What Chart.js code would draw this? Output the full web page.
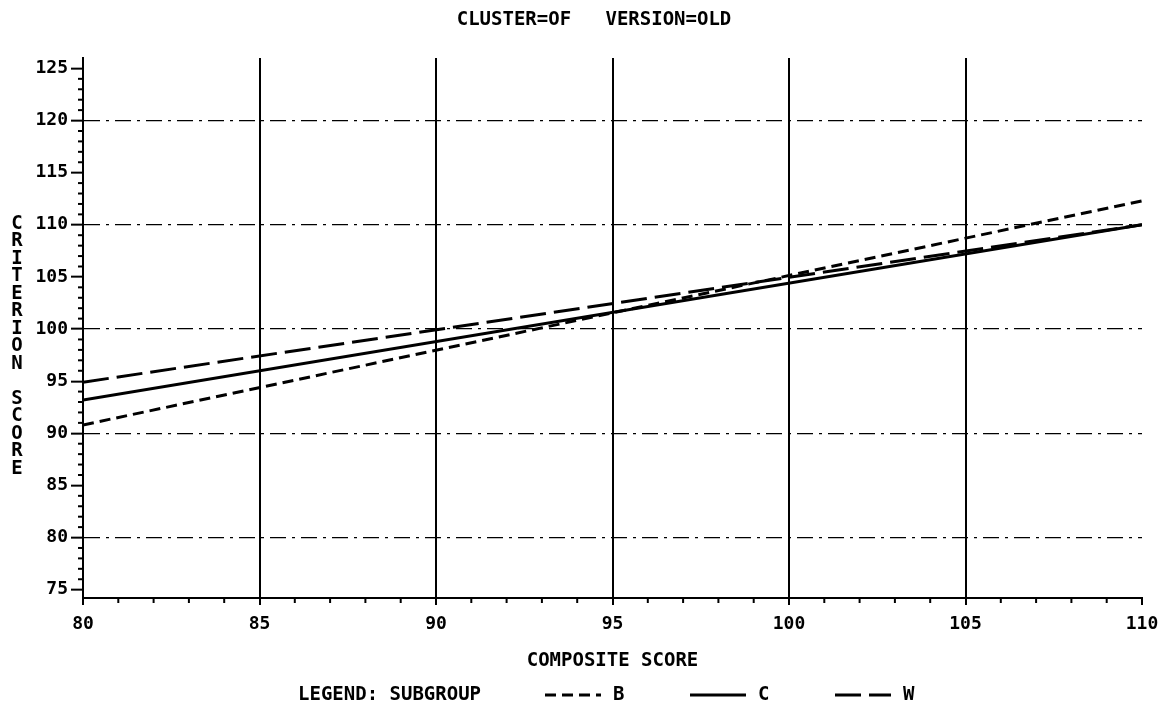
<!DOCTYPE html>
<html><head><meta charset="utf-8">
<script src="https://cdn.jsdelivr.net/npm/chart.js@4/dist/chart.umd.min.js"></script>
<style>html,body{margin:0;padding:0;background:#fff}#wrap{width:1162px;height:710px}</style>
</head><body><div id="wrap"><canvas id="c" width="1162" height="710"></canvas></div>
<script>
// ---- data ----
const chartTitle = 'CLUSTER=OF   VERSION=OLD';
const xAxisTitle = 'COMPOSITE SCORE';
const yAxisTitle = 'CRITERION SCORE';
const legendTitle = 'LEGEND: SUBGROUP';
const seriesNames = ['B', 'C', 'W'];
const xValues = [80, 110];
const valuesB = [90.8, 112.3];
const valuesC = [93.2, 110.0];
const valuesW = [94.9, 110.0];
const xTickValues = [80, 85, 90, 95, 100, 105, 110];
const yTickValues = [75, 80, 85, 90, 95, 100, 105, 110, 115, 120, 125];
const xGridValues = [85, 90, 95, 100, 105];
const yGridValues = [80, 90, 100, 110, 120];

// ---- styles ----
const FONT = '"DejaVu Sans Mono", "Liberation Mono", monospace';
const font = (size) => ({ family: FONT, size: size, weight: 'bold' });
const seriesDash = [[11, 6], [], [26, 8]];

const toPoints = (vals) => xValues.map((x, i) => ({ x: x, y: vals[i] }));
const allValues = [valuesB, valuesC, valuesW];

const datasets = seriesNames.map((name, i) => ({
  label: name,
  data: toPoints(allValues[i]),
  borderColor: '#000',
  borderWidth: 3,
  borderDash: seriesDash[i],
  pointRadius: 0,
  tension: 0,
  fill: false
}));

const decorPlugin = {
  id: 'decor',
  afterDraw(chart) {
    const ctx = chart.ctx;
    const xs = chart.scales.x, ys = chart.scales.y;
    const area = chart.chartArea;
    ctx.save();
    ctx.strokeStyle = '#000';
    ctx.lineWidth = 2;
    ctx.setLineDash([]);
    // minor ticks on y
    for (let v = 75; v <= 125; v++) {
      if (v % 5 === 0) continue;
      const py = ys.getPixelForValue(v);
      ctx.beginPath(); ctx.moveTo(area.left - 5, py); ctx.lineTo(area.left, py); ctx.stroke();
    }
    // minor ticks on x
    for (let v = 80; v <= 110; v++) {
      if (v % 5 === 0) continue;
      const px = xs.getPixelForValue(v);
      ctx.beginPath(); ctx.moveTo(px, area.bottom); ctx.lineTo(px, area.bottom + 5); ctx.stroke();
    }
    ctx.fillStyle = '#000';
    // title
    ctx.font = 'bold 19px ' + FONT;
    ctx.textAlign = 'center';
    ctx.textBaseline = 'middle';
    ctx.fillText(chartTitle, 594, 20);
    // stacked y label
    const letters = yAxisTitle.split('');
    letters.forEach((ch, i) => {
      if (ch !== ' ') ctx.fillText(ch, 17, 224 + i * 17.5);
    });
    // legend
    const ly = 695;
    ctx.textAlign = 'left';
    ctx.fillText(legendTitle, 298, ly);
    const starts = [545, 690, 835];
    chart.data.datasets.forEach((ds, i) => {
      const x0 = starts[i];
      ctx.beginPath();
      ctx.lineWidth = ds.borderWidth;
      ctx.setLineDash(ds.borderDash || []);
      ctx.moveTo(x0, ly); ctx.lineTo(x0 + 56, ly); ctx.stroke();
      ctx.setLineDash([]);
      ctx.fillText(ds.label, x0 + 68, ly);
    });
    ctx.restore();
  }
};

new Chart(document.getElementById('c'), {
  type: 'line',
  data: { datasets: datasets },
  plugins: [decorPlugin],
  options: {
    responsive: false,
    animation: false,
    devicePixelRatio: 1,
    layout: { padding: { left: 0, top: 58, right: 20, bottom: 30 } },
    plugins: { legend: { display: false }, tooltip: { enabled: false }, title: { display: false } },
    scales: {
      x: {
        type: 'linear', min: 80, max: 110,
        afterBuildTicks: (s) => { s.ticks = xTickValues.map(v => ({ value: v })); },
        afterFit: (s) => { s.height = 82; s.paddingRight = 20; s.paddingLeft = 0; },
        ticks: { font: font(18), color: '#000', padding: 9, maxRotation: 0, autoSkip: false, callback: (v) => String(v) },
        grid: {
          color: (c) => (c.tick && xGridValues.includes(c.tick.value)) ? '#000' : 'rgba(0,0,0,0)',
          lineWidth: 2, tickColor: '#000', tickLength: 7, tickWidth: 2
        },
        border: { display: true, color: '#000', width: 2 },
        title: { display: true, text: xAxisTitle, font: font(19), color: '#000', padding: { top: 0, bottom: 8 } }
      },
      y: {
        type: 'linear', min: 74.2, max: 126,
        afterBuildTicks: (s) => { s.ticks = yTickValues.map(v => ({ value: v })); },
        afterFit: (s) => { s.width = 83; },
        ticks: { font: font(18), color: '#000', padding: 3, autoSkip: false, callback: (v) => String(v) },
        grid: {
          color: (c) => (c.tick && yGridValues.includes(c.tick.value)) ? '#000' : 'rgba(0,0,0,0)',
          lineWidth: 1.3, tickColor: '#000', tickLength: 12, tickWidth: 2
        },
        border: { display: true, color: '#000', width: 2, dash: [16, 6, 3, 6] }
      }
    }
  }
});
</script>
</body></html>
